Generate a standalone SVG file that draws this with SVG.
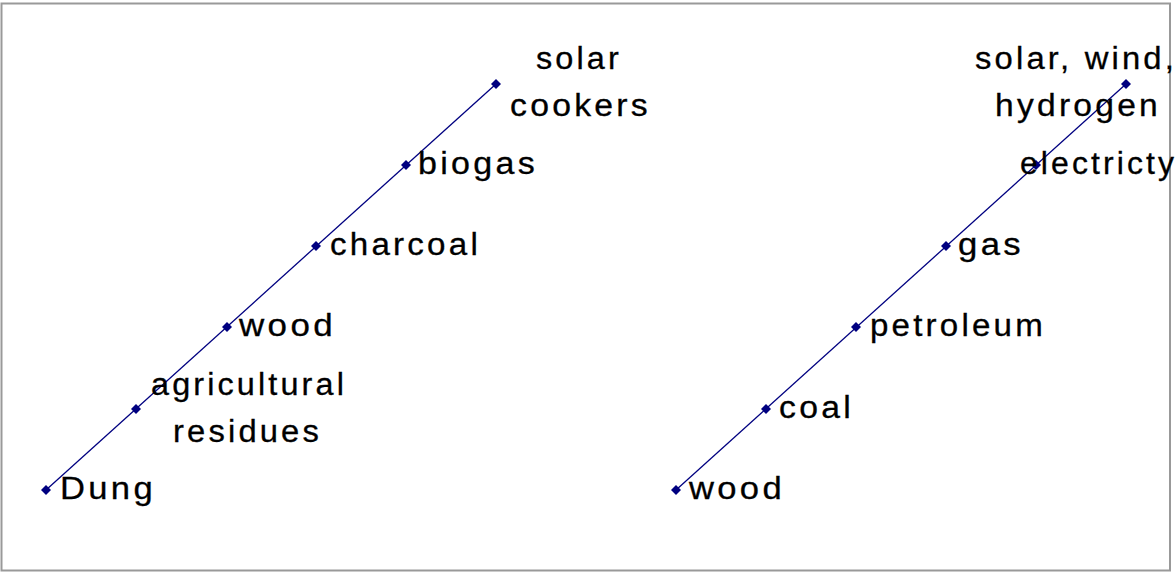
<svg xmlns="http://www.w3.org/2000/svg" xmlns:xlink="http://www.w3.org/1999/xlink" width="1176" height="572" viewBox="0 0 1176 572">
<style>
.frame{fill:#fff;stroke:#999;stroke-width:2}
.conn{fill:none;stroke:#000080;stroke-width:1.3}
.lbl{font-family:"Liberation Sans",Arial,sans-serif;font-size:31px;letter-spacing:3px;fill:#000;stroke:#000;stroke-width:0.3}
.dot{fill:#000080}
</style>
<defs>
<path id="d" class="dot" d="M0,-5L5,0L0,5L-5,0Z"/>
</defs>
<rect class="frame" x="1.5" y="3.5" width="1168.5" height="567"/>
<g id="connectors">
<line class="conn" x1="46" y1="490" x2="496" y2="84"/>
<line class="conn" x1="676" y1="490" x2="1126" y2="84"/>
</g>
<g id="n-dung"><use xlink:href="#d" x="46" y="490"/><text class="lbl" x="60" y="498.5" textLength="96" lengthAdjust="spacingAndGlyphs">Dung</text></g>
<g id="n-agri"><use xlink:href="#d" x="136" y="409"/><text class="lbl" x="151" y="395" textLength="196" lengthAdjust="spacingAndGlyphs">agricultural</text><text class="lbl" x="173" y="442" textLength="149" lengthAdjust="spacingAndGlyphs">residues</text></g>
<g id="n-wood1"><use xlink:href="#d" x="227" y="327"/><text class="lbl" x="239" y="336" textLength="97" lengthAdjust="spacingAndGlyphs">wood</text></g>
<g id="n-charcoal"><use xlink:href="#d" x="316" y="246"/><text class="lbl" x="330" y="255" textLength="151" lengthAdjust="spacingAndGlyphs">charcoal</text></g>
<g id="n-biogas"><use xlink:href="#d" x="406" y="165"/><text class="lbl" x="418" y="174" textLength="120" lengthAdjust="spacingAndGlyphs">biogas</text></g>
<g id="n-solar"><use xlink:href="#d" x="496" y="84"/><text class="lbl" x="536" y="69" textLength="86" lengthAdjust="spacingAndGlyphs">solar</text><text class="lbl" x="510" y="116" textLength="141" lengthAdjust="spacingAndGlyphs">cookers</text></g>
<g id="n-wood2"><use xlink:href="#d" x="676" y="490"/><text class="lbl" x="689" y="498.5" textLength="96" lengthAdjust="spacingAndGlyphs">wood</text></g>
<g id="n-coal"><use xlink:href="#d" x="766" y="409"/><text class="lbl" x="779" y="418" textLength="75" lengthAdjust="spacingAndGlyphs">coal</text></g>
<g id="n-petroleum"><use xlink:href="#d" x="856" y="327"/><text class="lbl" x="870" y="336" textLength="176" lengthAdjust="spacingAndGlyphs">petroleum</text></g>
<g id="n-gas"><use xlink:href="#d" x="946" y="246"/><text class="lbl" x="958" y="255" textLength="66" lengthAdjust="spacingAndGlyphs">gas</text></g>
<g id="n-electricty"><use xlink:href="#d" x="1036" y="165"/><text class="lbl" x="1020" y="174" textLength="157" lengthAdjust="spacingAndGlyphs">electricty</text></g>
<g id="n-solarwind"><use xlink:href="#d" x="1126" y="84"/><text class="lbl" x="975" y="69" textLength="202" lengthAdjust="spacingAndGlyphs">solar, wind,</text><text class="lbl" x="995" y="116" textLength="166" lengthAdjust="spacingAndGlyphs">hydrogen</text></g>
</svg>
